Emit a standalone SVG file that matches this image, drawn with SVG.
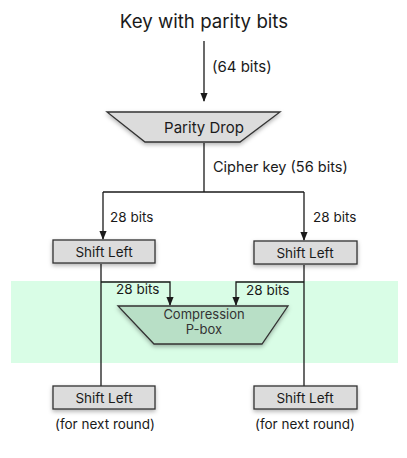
<svg xmlns="http://www.w3.org/2000/svg" width="407" height="458" viewBox="0 0 407 458">
<style>
text{font-family:Inter,"Noto Sans",sans-serif;fill:#1a1a1a}
.lbl{font-size:13.5px}
.box{fill:#dcdcdc;stroke:#333;stroke-width:1.3;filter:url(#sh)}
.ln{fill:none;stroke:#1a1a1a;stroke-width:1.3}
</style>
<defs>
<marker id="ah" viewBox="0 0 10 10" refX="9" refY="5" markerWidth="7" markerHeight="7" orient="auto"><path d="M0,1 L10,5 L0,9 z" fill="#1a1a1a"/></marker>
<filter id="sh" x="-20%" y="-30%" width="140%" height="180%"><feDropShadow dx="0" dy="2" stdDeviation="2" flood-color="#000" flood-opacity="0.3"/></filter>
</defs>
<rect x="11" y="281" width="387" height="82" fill="#d9fde6"/>
<g id="connectors">
<line class="ln" x1="204" y1="41" x2="204" y2="101" marker-end="url(#ah)"/>
<polyline class="ln" points="204,143 204,192"/>
<polyline class="ln" points="103,192 304,192"/>
<line class="ln" x1="103" y1="192" x2="103" y2="239" marker-end="url(#ah)"/>
<line class="ln" x1="304" y1="192" x2="304" y2="240" marker-end="url(#ah)"/>
<line class="ln" x1="101" y1="264" x2="101" y2="386"/>
<line class="ln" x1="304" y1="265" x2="304" y2="386"/>
<polyline class="ln" points="101,282 170,282 170,305" marker-end="url(#ah)"/>
<polyline class="ln" points="304,282 236,282 236,305" marker-end="url(#ah)"/>
<text x="212" y="72" font-size="15">(64 bits)</text>
<text x="213" y="172" font-size="14.5">Cipher key (56 bits)</text>
<text class="lbl" x="110" y="222">28 bits</text>
<text class="lbl" x="313" y="222">28 bits</text>
<text class="lbl" x="116" y="294">28 bits</text>
<text class="lbl" x="246" y="295">28 bits</text>
</g>
<g id="title"><text x="204" y="28" font-size="18.7" text-anchor="middle">Key with parity bits</text></g>
<g id="parity-drop">
<polygon class="box" points="107,112 280,112 240,142 145,142"/>
<text x="204" y="133" font-size="15" text-anchor="middle">Parity Drop</text>
</g>
<g id="shift-left-1">
<rect class="box" x="53" y="240" width="102" height="23"/>
<text x="104" y="257" font-size="13.5" text-anchor="middle">Shift Left</text>
</g>
<g id="shift-left-2">
<rect class="box" x="254" y="241" width="103" height="23"/>
<text x="305" y="258" font-size="13.5" text-anchor="middle">Shift Left</text>
</g>
<g id="compression">
<polygon points="118,306 288,306 262,344 154,344" fill="#b8dfc6" stroke="#333" stroke-width="1.3" filter="url(#sh)"/>
<text x="204" y="319" font-size="13" text-anchor="middle" style="fill:#333">Compression</text>
<text x="204" y="334" font-size="13" text-anchor="middle" style="fill:#333">P-box</text>
</g>
<g id="shift-left-3">
<rect class="box" x="53" y="386" width="102" height="23"/>
<text x="104" y="403" font-size="13.5" text-anchor="middle">Shift Left</text>
<text x="105" y="429" class="lbl" text-anchor="middle">(for next round)</text>
</g>
<g id="shift-left-4">
<rect class="box" x="254" y="386" width="103" height="23"/>
<text x="305" y="403" font-size="13.5" text-anchor="middle">Shift Left</text>
<text x="305" y="429" class="lbl" text-anchor="middle">(for next round)</text>
</g>
</svg>
